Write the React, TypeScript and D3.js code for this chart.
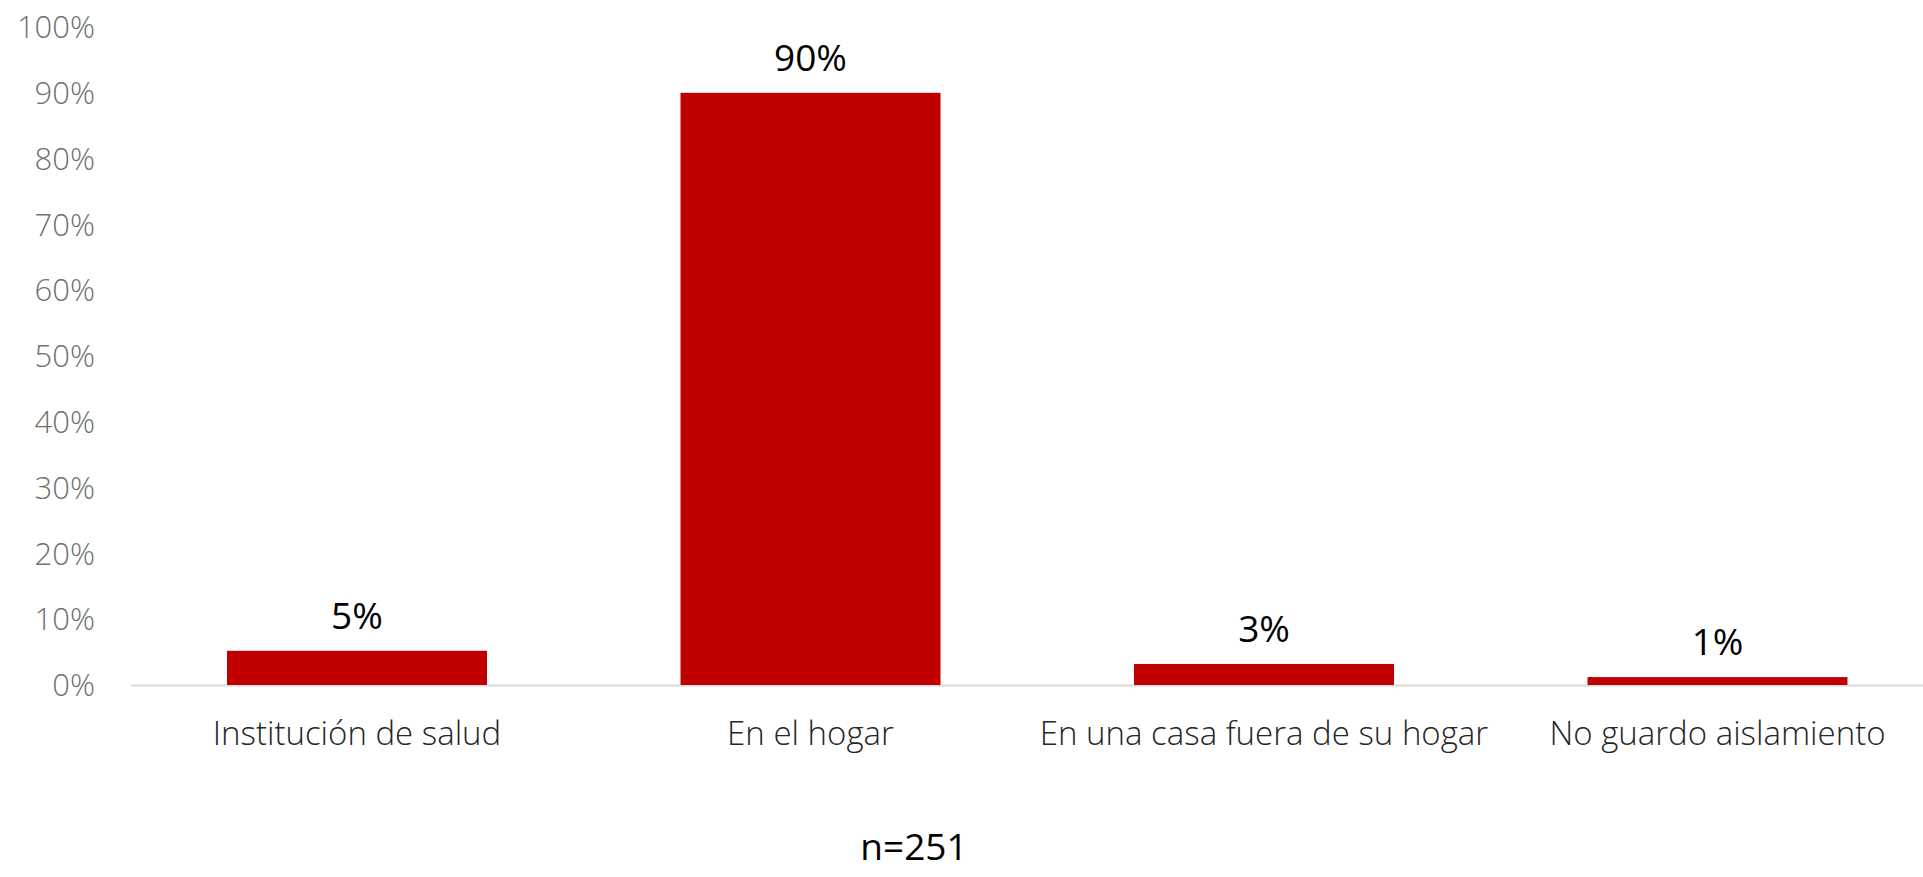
import * as d3 from 'd3'
import { useEffect, useRef } from 'react'

const categories = [
  'Institución de salud',
  'En el hogar',
  'En una casa fuera de su hogar',
  'No guardo aislamiento',
]
const values = [0.052, 0.9, 0.032, 0.012]
const valueLabels = ['5%', '90%', '3%', '1%']
const yTicks = [0, 0.1, 0.2, 0.3, 0.4, 0.5, 0.6, 0.7, 0.8, 0.9, 1]
const note = 'n=251'

const FONT = '"Open Sans", Lato, sans-serif'

export default function App() {
  const svgRef = useRef<SVGSVGElement | null>(null)

  useEffect(() => {
    if (!svgRef.current)
      return

    const width = 1923
    const height = 877
    const svg = d3.select(svgRef.current)
    svg.selectAll('*').remove()
    svg.attr('width', width).attr('height', height)

    const x = d3
      .scaleBand()
      .domain(categories)
      .range([130, 1944.5])
      .paddingInner(0.4267)
      .paddingOuter(0.2139)

    const y = d3.scaleLinear().domain([0, 1]).range([685, 27])

    // eje y (solo etiquetas)
    svg
      .append('g')
      .selectAll('text')
      .data(yTicks)
      .enter()
      .append('text')
      .attr('x', 95)
      .attr('y', d => y(d))
      .attr('dy', '0.36em')
      .attr('text-anchor', 'end')
      .attr('font-family', FONT)
      .attr('font-weight', 300)
      .attr('font-size', 31)
      .attr('fill', '#707070')
      .text(d => d3.format('.0%')(d))

    // línea base
    svg
      .append('line')
      .attr('x1', 131)
      .attr('x2', width)
      .attr('y1', y(0) + 0.5)
      .attr('y2', y(0) + 0.5)
      .attr('stroke', '#d9d9d9')
      .attr('stroke-width', 2)

    svg
      .append('g')
      .selectAll('rect')
      .data(values)
      .enter()
      .append('rect')
      .attr('x', (_, i) => x(categories[i]) || 0)
      .attr('y', d => y(d))
      .attr('width', x.bandwidth())
      .attr('height', d => y(0) - y(d))
      .attr('fill', '#c00000')

    svg
      .append('g')
      .selectAll('text')
      .data(values)
      .enter()
      .append('text')
      .attr('x', (_, i) => (x(categories[i]) || 0) + x.bandwidth() / 2)
      .attr('y', d => y(d) - 22)
      .attr('text-anchor', 'middle')
      .attr('font-family', FONT)
      .attr('font-size', 37)
      .attr('fill', '#000')
      .text((_, i) => valueLabels[i])

    svg
      .append('g')
      .selectAll('text')
      .data(categories)
      .enter()
      .append('text')
      .attr('x', d => (x(d) || 0) + x.bandwidth() / 2)
      .attr('y', 745)
      .attr('text-anchor', 'middle')
      .attr('font-family', FONT)
      .attr('font-weight', 300)
      .attr('font-size', 33)
      .attr('fill', '#262626')
      .text(d => d)

    svg
      .append('text')
      .attr('x', 914)
      .attr('y', 860)
      .attr('text-anchor', 'middle')
      .attr('font-family', FONT)
      .attr('font-size', 37)
      .attr('fill', '#000')
      .text(note)
  }, [])

  return (
    <svg
      ref={svgRef}
      style={{ position: 'absolute', left: 0, top: 0, display: 'block' }}
    />
  )
}
